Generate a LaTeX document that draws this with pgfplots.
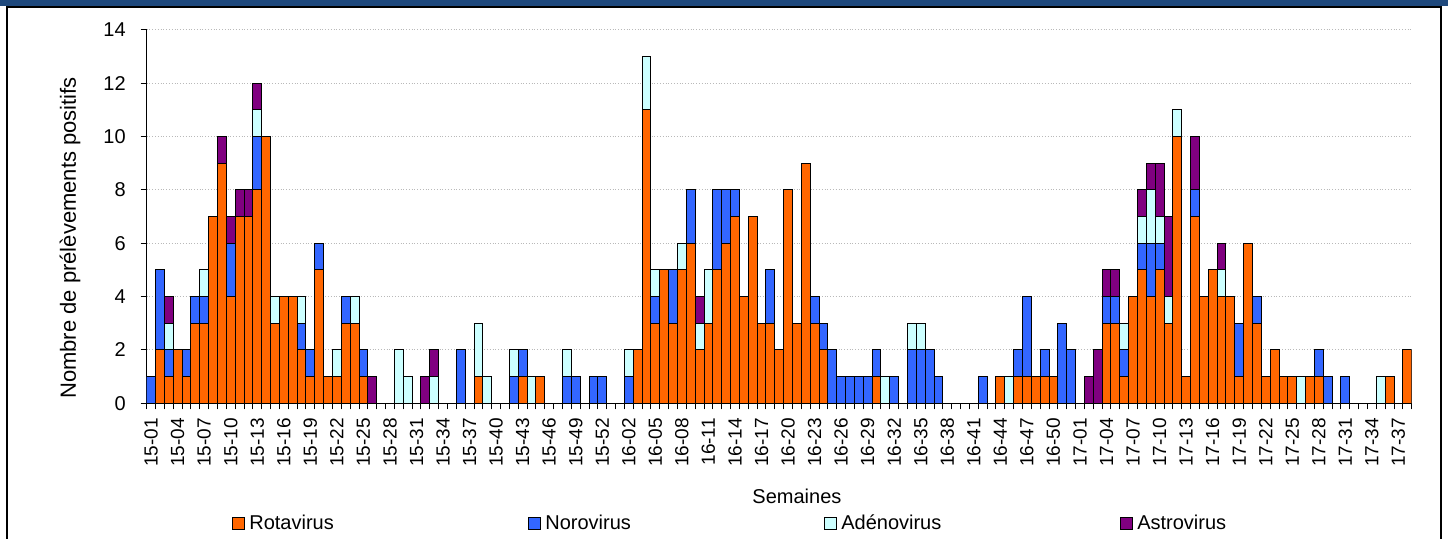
\documentclass[border=0pt]{standalone}
\usepackage{pgfplots}
\usepackage{pgfplotstable}
\pgfplotsset{compat=1.18}
\usepackage{fontspec}
\setmainfont{Liberation Sans}
\definecolor{rota}{HTML}{FF6600}
\definecolor{noro}{HTML}{3366FF}
\definecolor{adeno}{HTML}{CCFFFF}
\definecolor{astro}{HTML}{800080}
\definecolor{header}{HTML}{1F497D}
\pgfplotstableread{
x R N A S
0 0 1 0 0
1 2 3 0 0
2 1 1 1 1
3 2 0 0 0
4 1 1 0 0
5 3 1 0 0
6 3 1 1 0
7 7 0 0 0
8 9 0 0 1
9 4 2 0 1
10 7 0 0 1
11 7 0 0 1
12 8 2 1 1
13 10 0 0 0
14 3 0 1 0
15 4 0 0 0
16 4 0 0 0
17 2 1 1 0
18 1 1 0 0
19 5 1 0 0
20 1 0 0 0
21 1 0 1 0
22 3 1 0 0
23 3 0 1 0
24 1 1 0 0
25 0 0 0 1
26 0 0 0 0
27 0 0 0 0
28 0 0 2 0
29 0 0 1 0
30 0 0 0 0
31 0 0 0 1
32 0 0 1 1
33 0 0 0 0
34 0 0 0 0
35 0 2 0 0
36 0 0 0 0
37 1 0 2 0
38 0 0 1 0
39 0 0 0 0
40 0 0 0 0
41 0 1 1 0
42 1 1 0 0
43 0 0 1 0
44 1 0 0 0
45 0 0 0 0
46 0 0 0 0
47 0 1 1 0
48 0 1 0 0
49 0 0 0 0
50 0 1 0 0
51 0 1 0 0
52 0 0 0 0
53 0 0 0 0
54 0 1 1 0
55 2 0 0 0
56 11 0 2 0
57 3 1 1 0
58 5 0 0 0
59 3 2 0 0
60 5 0 1 0
61 6 2 0 0
62 2 0 1 1
63 3 0 2 0
64 5 3 0 0
65 6 2 0 0
66 7 1 0 0
67 4 0 0 0
68 7 0 0 0
69 3 0 0 0
70 3 2 0 0
71 2 0 0 0
72 8 0 0 0
73 3 0 0 0
74 9 0 0 0
75 3 1 0 0
76 2 1 0 0
77 0 2 0 0
78 0 1 0 0
79 0 1 0 0
80 0 1 0 0
81 0 1 0 0
82 1 1 0 0
83 0 0 1 0
84 0 1 0 0
85 0 0 0 0
86 0 2 1 0
87 0 2 1 0
88 0 2 0 0
89 0 1 0 0
90 0 0 0 0
91 0 0 0 0
92 0 0 0 0
93 0 0 0 0
94 0 1 0 0
95 0 0 0 0
96 1 0 0 0
97 0 0 1 0
98 1 1 0 0
99 1 3 0 0
100 1 0 0 0
101 1 1 0 0
102 1 0 0 0
103 0 3 0 0
104 0 2 0 0
105 0 0 0 0
106 0 0 0 1
107 0 0 0 2
108 3 1 0 1
109 3 1 0 1
110 1 1 1 0
111 4 0 0 0
112 5 1 1 1
113 4 2 2 1
114 5 1 1 2
115 3 0 1 3
116 10 0 1 0
117 1 0 0 0
118 7 1 0 2
119 4 0 0 0
120 5 0 0 0
121 4 0 1 1
122 4 0 0 0
123 1 2 0 0
124 6 0 0 0
125 3 1 0 0
126 1 0 0 0
127 2 0 0 0
128 1 0 0 0
129 1 0 0 0
130 0 0 1 0
131 1 0 0 0
132 1 1 0 0
133 0 1 0 0
134 0 0 0 0
135 0 1 0 0
136 0 0 0 0
137 0 0 0 0
138 0 0 0 0
139 0 0 1 0
140 1 0 0 0
141 0 0 0 0
142 2 0 0 0
}\data

\begin{document}
\begin{tikzpicture}
\useasboundingbox (0bp,0bp) rectangle (724bp,269.5bp);
\fill[white] (0bp,0bp) rectangle (724bp,269.5bp);
\fill[header] (0bp,266.5bp) rectangle (724bp,269.5bp);
\fill[black] (3bp,265.5bp) rectangle (721bp,266.5bp);
\fill[black] (3bp,0bp) rectangle (4bp,266.5bp);
\fill[black] (720bp,0bp) rectangle (721bp,266.5bp);
\begin{axis}[
  at={(73.35bp,67.85bp)}, anchor=south west,
  scale only axis, width=632.5bp, height=186.65bp,
  ybar stacked, bar width=1,
  xmin=-0.5, xmax=142.5, ymin=0, ymax=14,
  axis x line*=bottom, axis y line*=left,
  axis line style={black, line width=0.6bp},
  tick align=outside,
  major tick length=3bp,
  tick style={black, line width=0.5bp},
  ytick={0,2,...,14},
  ymajorgrids,
  major grid style={densely dotted, gray!55, line width=0.5bp},
  xtick={-0.5,0.5,...,142.5},
  xticklabels={},
  extra x ticks={0,3,...,141},
  extra x tick labels={15-01,15-04,15-07,15-10,15-13,15-16,15-19,15-22,15-25,15-28,15-31,15-34,15-37,15-40,15-43,15-46,15-49,15-52,16-02,16-05,16-08,16-11,16-14,16-17,16-20,16-23,16-26,16-29,16-32,16-35,16-38,16-41,16-44,16-47,16-50,17-01,17-04,17-07,17-10,17-13,17-16,17-19,17-22,17-25,17-28,17-31,17-34,17-37},
  extra x tick style={grid=none, major tick length=0pt},
  xticklabel style={rotate=90, anchor=east, font=\fontsize{9.5bp}{11bp}\selectfont},
  xticklabel shift=4bp,
  yticklabel style={font=\fontsize{10bp}{12bp}\selectfont},
  yticklabel shift=4bp,
  /pgf/number format/assume math mode=true,
  xlabel={Semaines},
  xlabel style={at={(axis description cs:0.514,-0.248)}, anchor=center, font=\fontsize{10bp}{12bp}\selectfont},
  ylabel={Nombre de prélèvements positifs},
  ylabel style={at={(axis description cs:-0.0606,0.443)}, anchor=center, font=\fontsize{11bp}{13bp}\selectfont},
  legend columns=4,
  legend style={at={(0.0627,-0.323)}, anchor=west, draw=none, fill=none,
    font=\fontsize{10bp}{12bp}\selectfont,
    /tikz/every even column/.append style={column sep=17.5bp}},
  legend image code/.code={\draw[#1, line width=0.5bp] (0bp,-3bp) rectangle (6bp,3bp);},
]
\addplot[fill=rota, draw=black, line width=0.5bp] table[x=x, y=R]{\data};
\addplot[fill=noro, draw=black, line width=0.5bp] table[x=x, y=N]{\data};
\addplot[fill=adeno, draw=black, line width=0.5bp] table[x=x, y=A]{\data};
\addplot[fill=astro, draw=black, line width=0.5bp] table[x=x, y=S]{\data};
\addlegendentry{\makebox[120bp][l]{Rotavirus}}
\addlegendentry{\makebox[120bp][l]{Norovirus}}
\addlegendentry{\makebox[120bp][l]{Adénovirus}}
\addlegendentry{\makebox[120bp][l]{Astrovirus}}
\end{axis}
\end{tikzpicture}
\end{document}
